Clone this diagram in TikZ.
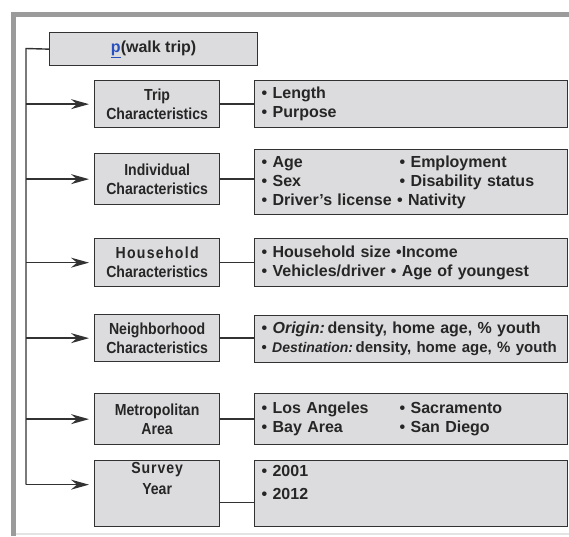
\documentclass[tikz,border=0pt]{standalone}
\usepackage{fontspec}
\setmainfont{Liberation Sans}
\newfontfamily\narrowsans{Liberation Sans}[FakeStretch=0.88]
\usetikzlibrary{arrows.meta}
\definecolor{boxfill}{RGB}{220,220,222}
\definecolor{boxline}{RGB}{50,50,50}
\definecolor{inkgray}{RGB}{38,38,38}
\definecolor{framegray}{RGB}{155,155,155}
\definecolor{framelight}{RGB}{228,228,228}
\definecolor{linkblue}{RGB}{40,80,190}
\begin{document}
\begin{tikzpicture}[x=1pt,y=-1pt]
      \tikzset{every node/.style={draw=boxline, fill=boxfill, line width=1.3pt, text=inkgray, inner sep=0pt, anchor=north west},
        headbox/.style={minimum width=208pt, minimum height=33pt, font=\bfseries\fontsize{16}{19}\selectfont},
        factor/.style={minimum width=125pt, align=center, font=\narrowsans\bfseries\fontsize{16}{19}\selectfont},
        detail/.style={minimum width=313pt, align=left, text width=299pt, font=\bfseries\fontsize{16}{19}\selectfont},
        link/.style={boxline, line width=1.4pt},
        feed/.style={link, -{Stealth[length=18pt,width=10pt,inset=6pt]}, shorten >=5pt}}
      \newcommand{\colA}[1]{\makebox[138pt][l]{#1}}
      \useasboundingbox (0,0) rectangle (569,536);

      % frame
      \draw[framegray, line width=5pt] (13,536) -- (13,14.5) -- (569,14.5);
      \draw[framelight, line width=1.5pt] (16,534) -- (569,534);

      \node[headbox] (pwalk) at (49,32) {{\color{linkblue}\underline{p}}(walk trip)};

      \node[factor, minimum height=47pt] (trip) at (94,80) {Trip\\Characteristics};
      \node[factor, minimum height=51pt] (indiv) at (94,153) {Individual\\Characteristics};
      \node[factor, minimum height=48pt] (house) at (94,238) {{\addfontfeature{LetterSpace=8}Household}\\Characteristics};
      \node[factor, minimum height=47pt] (neigh) at (94,314) {Neighborhood\\Characteristics};
      \node[factor, minimum height=51pt] (metro) at (94,393) {Metropolitan\\Area};
      \node[factor] (survey) at (94,460) {\parbox[c][66pt][t]{125pt}{\centering\vspace{2pt}{\addfontfeature{LetterSpace=6}Survey}\\[2pt]Year}};

      \node[detail, minimum height=47pt] (tripd) at (254,80) {• Length\\• Purpose};
      \node[detail, minimum height=65pt] (indivd) at (254,149) {\colA{• Age}• Employment\\\colA{• Sex}• Disability status\\• Driver’s license • Nativity};
      \node[detail, minimum height=48pt] (housed) at (254,238) {• Household size •Income\\• Vehicles/driver • Age of youngest};
      \node[detail, minimum height=47pt] (neighd) at (254,315) {• \textit{Origin:}\,density, home age, \% youth\\{\fontsize{15}{19}\selectfont • {\fontsize{14}{19}\selectfont\textit{Destination:}}\,density, home age, \% youth}};
      \node[detail, minimum height=51pt] (metrod) at (254,393) {\colA{• Los Angeles}• Sacramento\\\colA{• Bay Area}• San Diego};
      \node[detail] (surveyd) at (254,460) {\parbox[c][66pt][t]{299pt}{\vspace{5pt}• 2001\\[4pt]• 2012}};

      \coordinate (top) at (26,48.5);
      \coordinate (yr) at ([yshift=9pt]survey.west);
      \draw[link] (pwalk.west) -- (top) -- (top |- yr);

      \draw[feed] (top |- trip.west) -- (trip.west);
      \draw[feed] (top |- indiv.west) -- (indiv.west);
      \draw[feed] (top |- house.west) -- (house.west);
      \draw[feed] (top |- neigh.west) -- (neigh.west);
      \draw[feed] (top |- metro.west) -- (metro.west);
      \draw[feed] (top |- yr) -- (yr);

      \draw[link] (trip.east) -- (trip.east -| tripd.west);
      \draw[link] (indiv.east) -- (indiv.east -| indivd.west);
      \draw[link] (house.east) -- (house.east -| housed.west);
      \draw[link] (neigh.east) -- (neigh.east -| neighd.west);
      \draw[link] (metro.east) -- (metro.east -| metrod.west);
      \draw[link] ([yshift=-9pt]survey.east) -- ([yshift=-9pt]survey.east -| surveyd.west);
    \end{tikzpicture}
\end{document}
